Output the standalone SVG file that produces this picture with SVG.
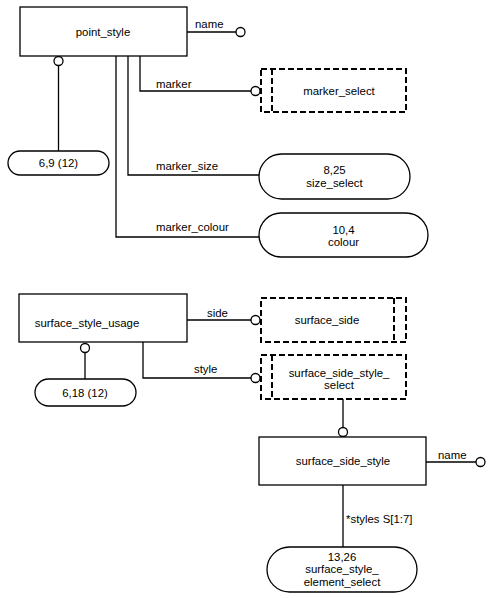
<svg xmlns="http://www.w3.org/2000/svg" width="491" height="598" viewBox="0 0 491 598">
<style>
text{font-family:"Liberation Sans",Arial,sans-serif;font-size:11.4px;fill:#000;text-anchor:middle}
.l{text-anchor:start}
.box{fill:#fff;stroke:#000;stroke-width:1.3}
.sel{fill:#fff;stroke:#000;stroke-width:2;stroke-dasharray:6,3}
.dl{stroke:#000;stroke-width:2;stroke-dasharray:6,3;fill:none}
.c{fill:none;stroke:#000;stroke-width:1.3}
.o{fill:#fff;stroke:#000;stroke-width:1.3}
</style>
<rect width="491" height="598" fill="#fff"/>
<g id="connectors">
<path class="c" d="M187 32H236"/>
<path class="c" d="M58.5 65V151"/>
<path class="c" d="M140 56V91H251"/>
<path class="c" d="M128 56V175H259"/>
<path class="c" d="M116 56V237H259"/>
<path class="c" d="M187 320H251"/>
<path class="c" d="M85 352V379"/>
<path class="c" d="M143 342V378H251"/>
<path class="c" d="M343 399V428"/>
<path class="c" d="M426 462H476"/>
<path class="c" d="M343 485V547"/>
<circle class="o" cx="240.5" cy="32" r="4.5"/>
<circle class="o" cx="58.5" cy="61" r="4.5"/>
<circle class="o" cx="255.5" cy="91" r="4.5"/>
<circle class="o" cx="85" cy="348" r="4.5"/>
<circle class="o" cx="255.5" cy="320" r="4.5"/>
<circle class="o" cx="255.5" cy="378" r="4.5"/>
<circle class="o" cx="343" cy="432" r="4.5"/>
<circle class="o" cx="480.5" cy="462" r="4.5"/>
<text class="l" x="195" y="28">name</text>
<text class="l" x="156" y="88">marker</text>
<text class="l" x="156" y="170">marker_size</text>
<text class="l" x="156" y="231">marker_colour</text>
<text class="l" x="207" y="317">side</text>
<text class="l" x="194" y="373">style</text>
<text class="l" x="438" y="459">name</text>
<text class="l" x="346" y="523">*styles S[1:7]</text>
</g>
<g id="point_style">
<rect class="box" x="20" y="7" width="167" height="49"/>
<text x="103" y="36">point_style</text>
</g>
<g id="n6_9">
<rect class="box" x="8" y="151" width="101" height="24" rx="12"/>
<text x="58.5" y="167">6,9 (12)</text>
</g>
<g id="marker_select">
<rect class="sel" x="261" y="69" width="145" height="43"/>
<path class="dl" d="M272 69V112"/>
<text x="339" y="95">marker_select</text>
</g>
<g id="size_select">
<rect class="box" x="259" y="154" width="151" height="45" rx="22.5"/>
<text x="334.5" y="174">8,25</text>
<text x="334.5" y="187">size_select</text>
</g>
<g id="colour">
<rect class="box" x="259" y="213" width="169" height="44" rx="22"/>
<text x="343.5" y="234">10,4</text>
<text x="343.5" y="246">colour</text>
</g>
<g id="surface_style_usage">
<rect class="box" x="19" y="294" width="168" height="48"/>
<text x="87" y="327">surface_style_usage</text>
</g>
<g id="n6_18">
<rect class="box" x="35" y="379" width="101" height="27" rx="13.5"/>
<text x="85" y="397">6,18 (12)</text>
</g>
<g id="surface_side">
<rect class="sel" x="261" y="298" width="145" height="44"/>
<path class="dl" d="M394 298V342"/>
<text x="327" y="324">surface_side</text>
</g>
<g id="surface_side_style_select">
<rect class="sel" x="261" y="355" width="145" height="44"/>
<path class="dl" d="M272 355V399"/>
<text x="339" y="377">surface_side_style_</text>
<text x="339" y="389">select</text>
</g>
<g id="surface_side_style">
<rect class="box" x="259" y="437" width="167" height="48"/>
<text x="343" y="465">surface_side_style</text>
</g>
<g id="surface_style_element_select">
<rect class="box" x="267" y="547" width="150" height="45" rx="22.5"/>
<text x="342" y="561">13,26</text>
<text x="342" y="573">surface_style_</text>
<text x="342" y="586">element_select</text>
</g>
</svg>
